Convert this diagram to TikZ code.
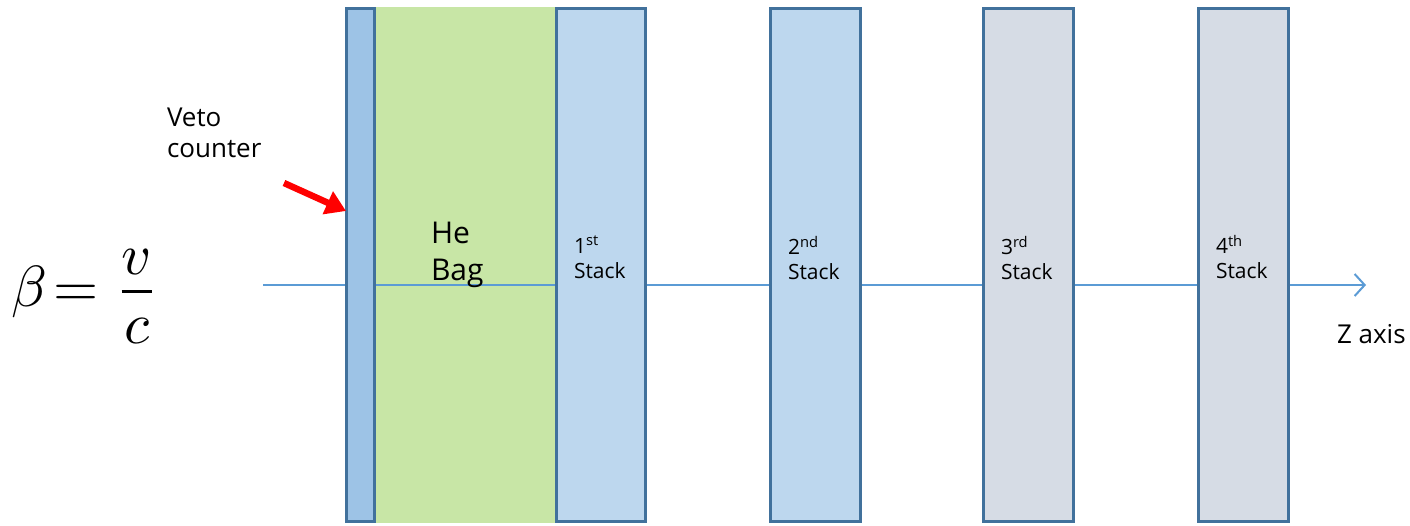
\documentclass[tikz,border=0pt]{standalone}
\usepackage{graphicx}
\usepackage{fontspec}
\setmainfont{Open Sans}
\usetikzlibrary{arrows.meta}
\definecolor{slabedge}{HTML}{41719C}
\definecolor{vetofill}{HTML}{9DC3E6}
\definecolor{stackfill}{HTML}{BDD7EE}
\definecolor{greyfill}{HTML}{D6DCE5}
\definecolor{bagfill}{HTML}{C8E6A6}
\definecolor{axisblue}{HTML}{5B9BD5}
\begin{document}
\begin{tikzpicture}[x=1pt,y=-1pt,
  slab/.style={draw=slabedge,line width=2.6pt,inner sep=0pt,outer sep=0pt,
    anchor=north west,minimum height=513pt,minimum width=90pt},
  lbl/.style={inner sep=0pt,outer sep=0pt,anchor=north west,align=left,
    font=\fontsize{21}{25}\selectfont},
  axisline/.style={draw=axisblue,line width=2pt}]
\useasboundingbox (0,0) rectangle (1410,525);

% helium bag volume
\node[fill=bagfill,inner sep=0pt,outer sep=0pt,anchor=north west,
  minimum width=181pt,minimum height=516pt] (bag) at (374,7) {};

% beam axis
\coordinate (zstart) at (263,285);
\coordinate (zend) at (1366,285);
\draw[axisline,-{Straight Barb[length=10pt,width=22pt,line width=2pt]}] (zstart) -- (zend);

% detector planes
\node[slab,fill=vetofill,minimum width=28pt] (veto) at (346.3,8.5) {};
\node[slab,fill=stackfill,minimum width=89pt] (s1) at (556.3,8.5) {};
\node[slab,fill=stackfill] (s2) at (770.3,8.5) {};
\node[slab,fill=greyfill] (s3) at (983.3,8.5) {};
\node[slab,fill=greyfill] (s4) at (1198.3,8.5) {};

% labels
\node[lbl,font=\fontsize{26}{31}\selectfont] (vetolbl) at (167,108) {Veto\\counter};
\node[lbl,font=\fontsize{30}{37}\selectfont] (baglbl) at (431,222) {He\\Bag};
\node[lbl] (s1lbl) at (574,236) {1\textsuperscript{st}\\Stack};
\node[lbl] (s2lbl) at (788,236) {2\textsuperscript{nd}\\Stack};
\node[lbl] (s3lbl) at (1001,236) {3\textsuperscript{rd}\\Stack};
\node[lbl] (s4lbl) at (1216,235) {4\textsuperscript{th}\\Stack};
\node[lbl,font=\fontsize{26}{31}\selectfont] (zlbl) at (1337,324) {Z axis};

% velocity formula (numerator sits a little closer to the bar)
\node[inner sep=0pt,anchor=base west] (beta) at (11,306)
  {\scalebox{5.8}{$\displaystyle\beta\!= \frac{\lower1.4pt\hbox{$v$}}{\raise0.4pt\hbox{$c$}}$}};

% pointer to the veto counter
\coordinate (ptail) at (284,183);
\coordinate (ptip) at (346,211);
\draw[red,line width=6.5pt,-{Triangle[length=20pt,width=24pt]}] (ptail) -- (ptip);
\end{tikzpicture}
\end{document}
